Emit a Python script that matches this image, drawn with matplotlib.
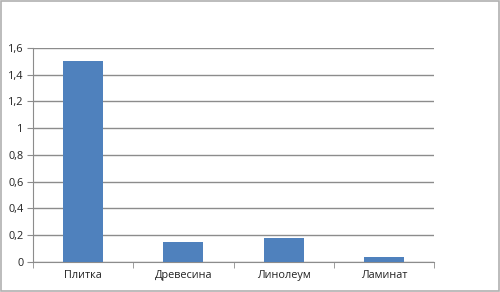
import matplotlib
matplotlib.use("Agg")
import matplotlib.pyplot as plt
from matplotlib.patches import Rectangle
from matplotlib.ticker import FuncFormatter

# Data
categories = ["Плитка", "Древесина", "Линолеум", "Ламинат"]
values = [1.5, 0.15, 0.18, 0.04]
yticks = [0, 0.2, 0.4, 0.6, 0.8, 1.0, 1.2, 1.4, 1.6]

plt.rcParams['font.family'] = ['Open Sans', 'DejaVu Sans']

fig = plt.figure(figsize=(5, 2.92), dpi=100)
ax = fig.add_axes([0.066, 0.103, 0.802, 0.733])

x = range(len(categories))
ax.bar(x, values, width=0.4, color='#4f81bd', zorder=3)

ax.set_xlim(-0.5, len(categories) - 0.5)
ax.set_ylim(0, 1.6)
ax.set_yticks(yticks)
ax.yaxis.set_major_formatter(FuncFormatter(lambda v, p: ('%g' % round(v, 1)).replace('.', ',')))
ax.grid(axis='y', color='#8c8c8c', linewidth=1, zorder=0)

# category labels in the middle, tick marks at the boundaries
ax.set_xticks(list(x))
ax.set_xticklabels(categories)
ax.tick_params(axis='x', length=0, pad=6, labelsize=7.8, colors='#222222')
ax.set_xticks([i - 0.5 for i in range(len(categories) + 1)], minor=True)
ax.tick_params(axis='x', which='minor', length=4, color='#8c8c8c', direction='out')
ax.tick_params(axis='y', length=4, color='#8c8c8c', labelsize=7.8, colors='#222222', pad=3)

for s in ['top', 'right']:
    ax.spines[s].set_visible(False)
for s in ['left', 'bottom']:
    ax.spines[s].set_color('#8c8c8c')

# grey frame around the whole picture
fig.patches.append(Rectangle((0.002, 0.004), 0.995, 0.992, transform=fig.transFigure,
                             fill=False, edgecolor='#b0b0b0', linewidth=1.2))

fig.savefig('out.png', dpi=100)
